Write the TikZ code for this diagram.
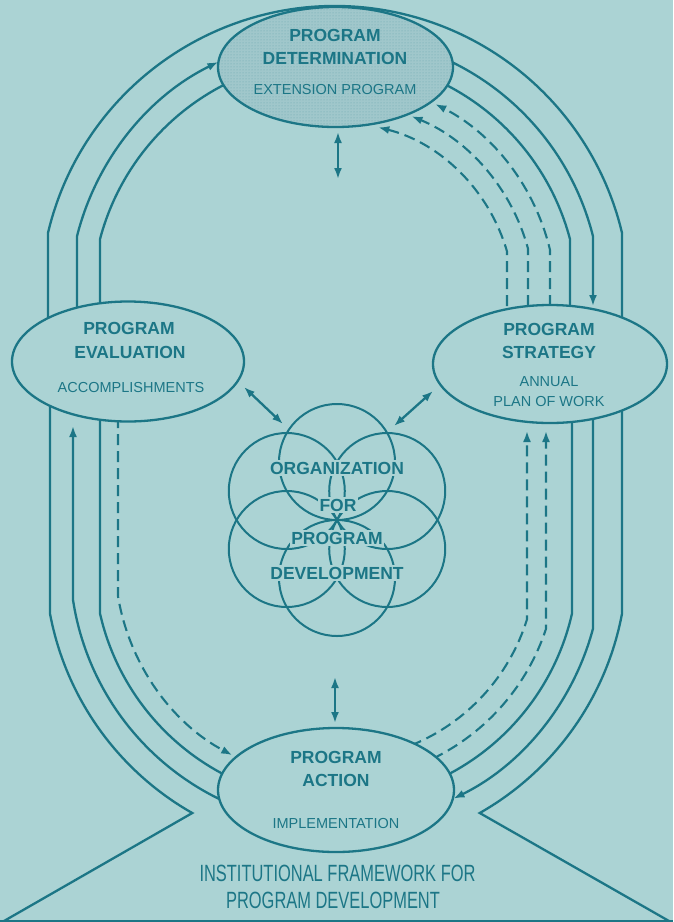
\documentclass[tikz,border=0pt]{standalone}
\usepackage{fontspec}
\setmainfont{Liberation Sans}
\usetikzlibrary{arrows.meta,calc,shapes.geometric,patterns.meta}
\definecolor{bgc}{RGB}{171,211,212}
\definecolor{ink}{RGB}{28,118,134}
\definecolor{dotfill}{RGB}{160,199,203}
\tikzset{
  solidline/.style={draw=ink,line width=2.3pt},
  dashline/.style={draw=ink,line width=2.1pt,dash pattern=on 11pt off 6pt},
  onehead/.style={-{Latex[length=11pt,width=8pt]}},
  twohead/.style={{Latex[length=11pt,width=8pt]}-{Latex[length=11pt,width=8pt]}},
  phase/.style={ellipse,draw=ink,line width=2.3pt,fill=bgc,inner sep=0pt},
  boldtext/.style={text=ink,font=\bfseries\fontsize{17.5}{20}\selectfont,inner sep=1.5pt},
  plaintext/.style={text=ink,font=\fontsize{14.5}{17}\selectfont,inner sep=1.5pt},
  petal/.style={circle,draw=ink,line width=2pt,minimum size=116pt,inner sep=0pt},
  titletext/.style={text=ink,font=\fontsize{23.5}{26}\selectfont,inner sep=0pt},
}
\begin{document}
\begin{tikzpicture}[x=1pt,y=-1pt]
\useasboundingbox (0,0) rectangle (673,922);
\fill[bgc] (0,0) rectangle (673,922);
\coordinate (U) at (335,301);
\coordinate (D) at (336,560);
\coordinate (O) at (337,520);

% ---- upper arcs
\draw[solidline] (48,340) -- ($(U)+(193.36:295)$) arc[start angle=193.36,end angle=346.64,radius=295] -- (622,340);
\draw[solidline,onehead] (77,340) -- ($(U)+(194.10:266)$) arc[start angle=194.10,end angle=244,radius=266];
\draw[solidline] (100,340) -- ($(U)+(194.75:243)$) arc[start angle=194.75,end angle=245,radius=243];
\draw[solidline,onehead] ($(U)+(294:266)$) arc[start angle=294,end angle=345.90,radius=266] -- (593,306);
\draw[solidline] ($(U)+(294:243)$) arc[start angle=294,end angle=345.25,radius=243] -- (570,340);
\draw[dashline,onehead] (550,340) -- ($(U)+(346.63:221)$) arc[start angle=346.63,end angle=297,radius=221];
\draw[dashline,onehead] (528,340) -- ($(U)+(344.8:200)$) arc[start angle=344.8,end angle=292.5,radius=200];
\draw[dashline,onehead] (507,340) -- ($(U)+(343.93:179)$) arc[start angle=343.93,end angle=284,radius=179];

% ---- lower arcs
\coordinate (bl) at (4,921);
\coordinate (br) at (669,921);
\draw[solidline] (50,400) -- ($(D)+(169.36:291)$) arc[start angle=169.36,end angle=119.6,radius=291] -- (bl);
\draw[solidline,onehead] ($(D)+(114:266)$) arc[start angle=114,end angle=171.39,radius=266] -- (73,426);
\draw[solidline] (100,400) -- ($(D)+(167.21:242)$) arc[start angle=167.21,end angle=115,radius=242];
\draw[dashline,onehead] (118,400) -- ($(D)+(170.55:221)$) arc[start angle=170.55,end angle=118,radius=221];

\draw[solidline] (622,400) -- ($(D)+(10.64:291)$) arc[start angle=10.64,end angle=60.4,radius=291] -- (br);
\draw[solidline,onehead] (593,400) -- ($(D)+(14.98:266)$) arc[start angle=14.98,end angle=63.8,radius=266];
\draw[solidline] (572,400) -- ($(D)+(12.79:242)$) arc[start angle=12.79,end angle=65,radius=242];
\draw[dashline,onehead] ($(D)+(64:221)$) arc[start angle=64,end angle=18.15,radius=221] -- (546,431);
\draw[dashline,onehead] ($(D)+(68:200)$) arc[start angle=68,end angle=17.25,radius=200] -- (527,431);

\draw[ink,line width=1.4pt] (0,921) -- (673,921);

% ---- phase ellipses
\node[phase,minimum width=235pt,minimum height=120pt,preaction={fill=dotfill},
      pattern={Dots[radius=0.5pt,distance=3pt]},pattern color=ink!40!dotfill] (det) at (335.5,67) {};
\node[phase,minimum width=232pt,minimum height=120pt] (eval) at (128,361.5) {};
\node[phase,minimum width=234pt,minimum height=118pt] (strat) at (550,364) {};
\node[phase,minimum width=236pt,minimum height=124pt] (act) at (336,790) {};

\node[boldtext] (t1) at (335,35) {PROGRAM};
\node[boldtext] (t2) at (335,58) {DETERMINATION};
\node[plaintext] (t3) at (335,90) {EXTENSION PROGRAM};

\node[boldtext] (e1) at (129,328) {PROGRAM};
\node[boldtext] (e2) at (130,352) {EVALUATION};
\node[plaintext] (e3) at (131,388) {ACCOMPLISHMENTS};

\node[boldtext] (s1) at (549,329) {PROGRAM};
\node[boldtext] (s2) at (549,352) {STRATEGY};
\node[plaintext] (s3) at (549,382) {ANNUAL};
\node[plaintext] (s4) at (549,402) {PLAN OF WORK};

\node[boldtext] (a1) at (336,757.5) {PROGRAM};
\node[boldtext] (a2) at (336,780) {ACTION};
\node[plaintext] (a3) at (336,823) {IMPLEMENTATION};

% ---- organization rosette
\foreach \a/\n in {90/1,30/2,-30/3,-90/4,150/5,210/6}
  \node[petal] (p\n) at ($(O)+(\a:58)$) {};
\node[boldtext,fill=bgc] (o1) at (337,468) {ORGANIZATION};
\node[boldtext,fill=bgc] (o2) at (338,505) {FOR};
\node[boldtext,fill=bgc] (o3) at (337,538) {PROGRAM};
\node[boldtext,fill=bgc] (o4) at (337,573) {DEVELOPMENT};

% ---- double arrows
\coordinate (da1) at (338,132); \coordinate (da2) at (338,179);
\coordinate (db1) at (335,677); \coordinate (db2) at (335,723);
\coordinate (dl1) at (244,387); \coordinate (dl2) at (283,424);
\coordinate (dr1) at (433,391); \coordinate (dr2) at (394,426);
\draw[solidline,twohead] (da1) -- (da2);
\draw[solidline,twohead] (db1) -- (db2);
\draw[solidline,twohead] (dl1) -- (dl2);
\draw[solidline,twohead] (dr1) -- (dr2);

% ---- title
\node[titletext] (c1) at (337.5,873) {\scalebox{0.70}[1]{INSTITUTIONAL FRAMEWORK FOR}};
\node[titletext] (c2) at (333,900) {\scalebox{0.70}[1]{PROGRAM DEVELOPMENT}};
\end{tikzpicture}
\end{document}
